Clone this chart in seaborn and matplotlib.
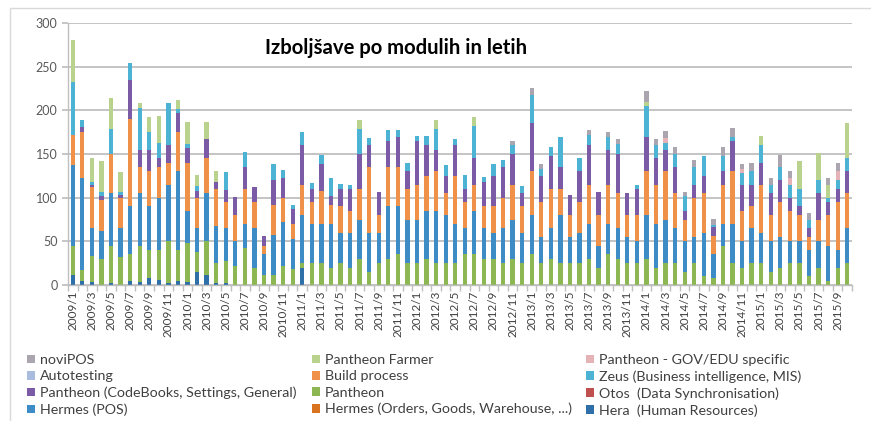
import matplotlib
matplotlib.use("Agg")
import numpy as np
import pandas as pd
import matplotlib.pyplot as plt
from matplotlib.patches import Patch, Rectangle
import seaborn as sns

# ---------------- data ----------------
months = [f"{y}/{m}" for y in range(2009, 2016) for m in range(1, 13)][:82]
tick_labels = months[::2]

hera = [12, 5, 3, 0, 2, 0, 5, 4, 8, 6, 2, 5,
        3, 15, 12, 2, 2, 0, 0, 0, 0, 0, 0, 0,
        20, 0, 0, 0, 0, 0, 0, 0, 0, 0, 0, 0,
        0, 0, 0, 0, 0, 0, 0, 0, 0, 0, 0, 0,
        0, 0, 0, 0, 0, 0, 0, 0, 0, 0, 0, 0,
        0, 0, 0, 0, 0, 0, 0, 0, 0, 0, 0, 0,
        0, 0, 0, 0, 0, 0, 0, 0, 0, 0]
pantheon = [33, 12, 30, 30, 43, 32, 30, 41, 32, 34, 48, 35,
            45, 23, 38, 23, 26, 22, 42, 20, 12, 12, 22, 18,
            5, 25, 25, 20, 25, 20, 30, 15, 25, 30, 35, 25,
            25, 30, 25, 25, 25, 35, 35, 30, 30, 25, 30, 25,
            35, 25, 30, 25, 25, 25, 30, 20, 35, 30, 25, 25,
            30, 20, 25, 25, 15, 25, 10, 8, 45, 25, 20, 25,
            25, 15, 20, 25, 25, 10, 20, 5, 20, 25]
otos = [0, 0, 0, 0, 0, 0, 0, 0, 0, 0, 0, 0,
        0, 0, 0, 0, 0, 0, 0, 0, 0, 0, 0, 0,
        0, 0, 0, 0, 0, 0, 0, 0, 0, 0, 0, 0,
        0, 0, 0, 0, 0, 0, 0, 0, 0, 0, 0, 0,
        0, 0, 0, 0, 0, 0, 0, 0, 0, 0, 0, 0,
        0, 0, 0, 0, 0, 0, 0, 0, 0, 0, 0, 0,
        0, 0, 0, 0, 0, 0, 0, 0, 0, 0]
hermes_pos = [92, 106, 32, 32, 60, 33, 55, 60, 50, 60, 65, 90,
              37, 27, 55, 43, 37, 28, 28, 45, 23, 45, 50, 35,
              55, 45, 45, 50, 35, 40, 45, 45, 35, 60, 55, 50,
              50, 55, 60, 55, 45, 30, 50, 35, 30, 40, 45, 35,
              45, 30, 35, 55, 30, 35, 40, 25, 35, 35, 30, 25,
              50, 50, 50, 40, 35, 30, 50, 28, 25, 45, 30, 40,
              35, 35, 35, 25, 25, 30, 30, 40, 20, 40]
hermes_orders = [0, 0, 0, 0, 0, 0, 0, 0, 0, 0, 0, 0,
                 0, 0, 0, 0, 0, 0, 0, 0, 0, 0, 0, 0,
                 0, 0, 0, 0, 0, 0, 0, 0, 0, 0, 0, 0,
                 0, 0, 0, 0, 0, 0, 0, 0, 0, 0, 0, 0,
                 0, 0, 0, 0, 0, 0, 0, 0, 0, 0, 0, 0,
                 0, 0, 0, 0, 0, 0, 0, 0, 0, 0, 0, 0,
                 0, 0, 0, 0, 0, 0, 0, 0, 0, 0]
build = [35, 52, 47, 35, 45, 35, 100, 30, 40, 35, 25, 45,
         55, 35, 40, 42, 30, 30, 40, 30, 10, 35, 28, 17,
         35, 25, 38, 22, 30, 25, 35, 75, 20, 45, 45, 35,
         40, 40, 45, 25, 55, 30, 30, 25, 30, 35, 40, 30,
         50, 40, 45, 30, 25, 35, 45, 35, 45, 40, 25, 30,
         50, 45, 55, 40, 25, 45, 45, 20, 45, 60, 35, 25,
         55, 30, 40, 35, 30, 15, 25, 35, 55, 40]
codebooks = [0, 6, 3, 5, 0, 3, 45, 20, 25, 10, 20, 22,
             17, 8, 22, 8, 14, 21, 25, 17, 11, 28, 22, 17,
             45, 15, 30, 10, 20, 25, 40, 25, 27, 30, 35, 20,
             50, 35, 25, 20, 35, 15, 30, 28, 35, 35, 35, 15,
             55, 30, 38, 25, 23, 35, 45, 27, 40, 45, 25, 30,
             40, 30, 25, 30, 10, 15, 20, 10, 15, 35, 30, 25,
             25, 25, 25, 15, 10, 10, 30, 15, 15, 25]
zeus = [61, 8, 3, 5, 29, 3, 19, 48, 20, 18, 48, 5,
        5, 5, 0, 0, 20, 0, 17, 0, 0, 18, 10, 5,
        15, 7, 11, 20, 6, 5, 29, 8, 0, 13, 8, 10,
        6, 11, 24, 12, 7, 16, 37, 6, 13, 8, 10, 8,
        33, 8, 10, 35, 0, 15, 12, 0, 15, 12, 0, 5,
        35, 15, 8, 15, 17, 20, 23, 3, 18, 5, 13, 15,
        20, 10, 15, 15, 20, 10, 15, 5, 10, 15]
autotesting = [0, 0, 0, 0, 0, 0, 0, 0, 0, 0, 0, 0,
               0, 0, 0, 0, 0, 0, 0, 0, 0, 0, 0, 0,
               0, 0, 0, 0, 0, 0, 0, 0, 0, 0, 0, 0,
               0, 0, 0, 0, 0, 0, 0, 0, 0, 0, 0, 0,
               0, 0, 0, 0, 0, 0, 0, 0, 0, 0, 0, 0,
               0, 0, 0, 0, 0, 0, 0, 0, 0, 0, 0, 0,
               0, 0, 0, 0, 0, 0, 0, 0, 0, 0]
gov_edu = [0, 0, 0, 0, 0, 0, 0, 0, 0, 0, 0, 0,
           0, 0, 0, 0, 0, 0, 0, 0, 0, 0, 0, 0,
           0, 0, 0, 0, 0, 0, 0, 0, 0, 0, 0, 0,
           0, 0, 0, 0, 0, 0, 0, 0, 0, 0, 0, 0,
           0, 0, 0, 0, 0, 0, 0, 0, 0, 0, 0, 0,
           0, 0, 5, 0, 0, 0, 0, 0, 0, 0, 5, 0,
           0, 0, 0, 7, 0, 0, 0, 0, 10, 0]
farmer = [48, 0, 27, 35, 35, 23, 0, 5, 17, 30, 0, 10,
          25, 13, 20, 12, 0, 0, 0, 0, 0, 0, 0, 0,
          0, 0, 0, 0, 0, 0, 10, 0, 0, 0, 0, 0,
          0, 0, 10, 0, 0, 0, 10, 0, 0, 0, 0, 0,
          0, 0, 0, 0, 0, 0, 0, 0, 0, 0, 0, 0,
          5, 0, 0, 0, 0, 0, 0, 0, 0, 0, 0, 0,
          11, 0, 0, 0, 32, 0, 31, 15, 0, 40]
novipos = [0, 0, 0, 0, 0, 0, 0, 0, 0, 0, 0, 0,
           0, 0, 0, 0, 0, 0, 0, 0, 0, 0, 0, 0,
           0, 0, 0, 0, 0, 0, 0, 0, 0, 0, 0, 0,
           0, 0, 0, 0, 0, 0, 0, 0, 0, 0, 5, 0,
           8, 5, 0, 0, 0, 0, 5, 0, 5, 5, 0, 0,
           12, 7, 8, 8, 5, 8, 0, 7, 10, 10, 5, 10,
           0, 7, 14, 8, 0, 8, 0, 8, 10, 0]

series = {
    "Hera  (Human Resources)": hera,
    "Pantheon": pantheon,
    "Otos  (Data Synchronisation)": otos,
    "Hermes (POS)": hermes_pos,
    "Hermes (Orders, Goods, Warehouse, ...)": hermes_orders,
    "Build process": build,
    "Pantheon (CodeBooks, Settings, General)": codebooks,
    "Zeus (Business intelligence, MIS)": zeus,
    "Autotesting": autotesting,
    "Pantheon - GOV/EDU specific": gov_edu,
    "Pantheon Farmer": farmer,
    "noviPOS": novipos,
}
colors = {
    "Hera  (Human Resources)": "#2F6FA8",
    "Pantheon": "#8DB753",
    "Otos  (Data Synchronisation)": "#C0504D",
    "Hermes (POS)": "#3E8CC6",
    "Hermes (Orders, Goods, Warehouse, ...)": "#D9731F",
    "Build process": "#F0914A",
    "Pantheon (CodeBooks, Settings, General)": "#7B5BA6",
    "Zeus (Business intelligence, MIS)": "#4DB3D4",
    "Autotesting": "#A9BCDD",
    "Pantheon - GOV/EDU specific": "#E5B2B8",
    "Pantheon Farmer": "#B9D28E",
    "noviPOS": "#ABA5B0",
}
bottom_to_top = list(series.keys())

rows = []
for name in bottom_to_top:
    for i, v in enumerate(series[name]):
        rows.append({"month": i, "module": name, "count": v})
df = pd.DataFrame(rows)

# ---------------- plot ----------------
sns.set_theme(style="white")
plt.rcParams["font.family"] = ["Lato", "DejaVu Sans"]

W, H = 871, 421
fig = plt.figure(figsize=(W / 100, H / 100), dpi=100)
ax = fig.add_axes([68 / W, 136 / H, (852 - 68) / W, 262 / H])

sns.histplot(data=df, x="month", weights="count", hue="module",
             hue_order=bottom_to_top[::-1], multiple="stack", discrete=True,
             shrink=0.45, palette=colors, linewidth=0, alpha=1,
             legend=False, ax=ax)

ax.set_xlim(-0.5, len(months) - 0.5)
ax.set_ylim(0, 300)
ax.set_yticks(range(0, 301, 50))
ax.yaxis.grid(True, color="#BFBFBF", linewidth=1.3)
ax.xaxis.grid(False)
ax.set_axisbelow(True)
for s in ["top", "right"]:
    ax.spines[s].set_visible(False)
for s in ["left", "bottom"]:
    ax.spines[s].set_color("#BFBFBF")
    ax.spines[s].set_linewidth(1.0)

ax.set_xticks(range(0, len(months), 2))
ax.set_xticklabels(tick_labels, rotation=90, fontsize=8.5, color="#404040")
ax.set_xticks(np.arange(-0.5, len(months), 1), minor=True)
ax.tick_params(axis="x", which="major", length=0, pad=4)
ax.tick_params(axis="x", which="minor", length=4, color="#BFBFBF", bottom=True)
ax.tick_params(axis="y", length=4, color="#BFBFBF", labelsize=9,
               labelcolor="#595959", left=True)
ax.set_xlabel("")
ax.set_ylabel("")

ax.text(0.418, 0.905, "Izboljšave po modulih in letih", transform=ax.transAxes,
        ha="center", va="center", fontsize=14.6, fontweight="bold", color="#000000")

# legend: three columns, read row-wise in reverse series order
legend_cols = [
    ["noviPOS", "Autotesting", "Pantheon (CodeBooks, Settings, General)", "Hermes (POS)"],
    ["Pantheon Farmer", "Build process", "Pantheon", "Hermes (Orders, Goods, Warehouse, ...)"],
    ["Pantheon - GOV/EDU specific", "Zeus (Business intelligence, MIS)",
     "Otos  (Data Synchronisation)", "Hera  (Human Resources)"],
]
col_x = [27, 312, 586]
for cx, names in zip(col_x, legend_cols):
    handles = [Patch(facecolor=colors[n], edgecolor="none", label=n) for n in names]
    fig.legend(handles=handles, loc="upper left",
               bbox_to_anchor=(cx / W, 1 - 354 / H), frameon=False,
               fontsize=10.3, handlelength=0.55, handleheight=0.55,
               handletextpad=0.35, labelspacing=0.3, borderpad=0,
               borderaxespad=0, labelcolor="#404040")

fig.add_artist(Rectangle((10 / W, -0.02), 1.0, 1 - 8 / H + 0.02,
                         transform=fig.transFigure, fill=False,
                         edgecolor="#D9D9D9", linewidth=1.0))

fig.savefig("out.png", dpi=100)
